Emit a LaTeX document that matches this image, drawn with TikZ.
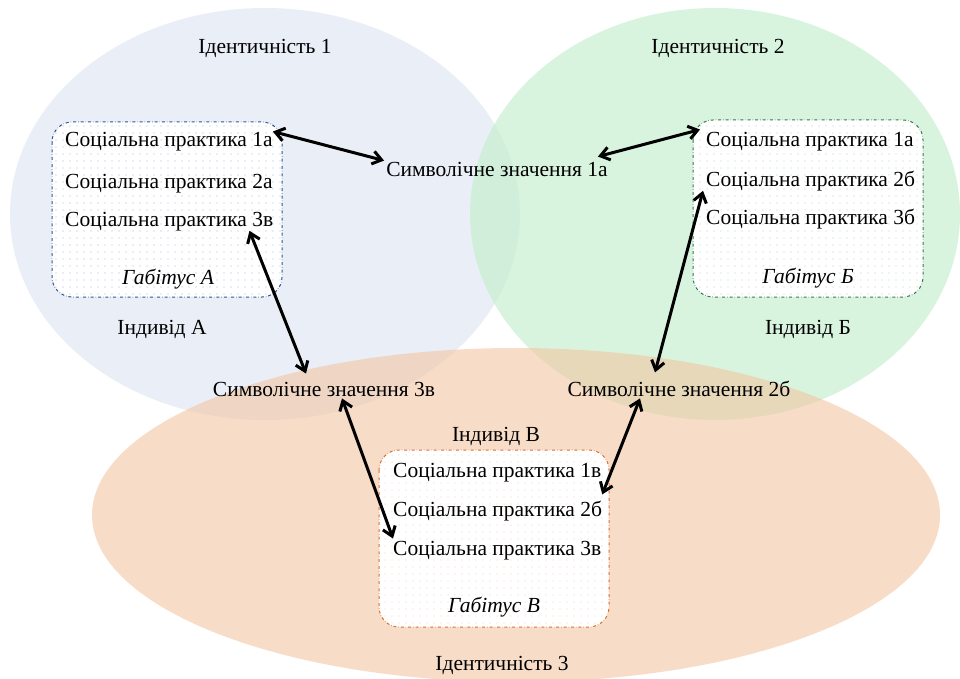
\documentclass[tikz,border=0pt]{standalone}
\usepackage{fontspec}
\setmainfont{Liberation Serif}
\usetikzlibrary{arrows.meta,patterns.meta,calc}
\definecolor{eblue}{RGB}{220,229,243}
\definecolor{egreen}{RGB}{192,238,200}
\definecolor{eorange}{RGB}{243,198,163}
\definecolor{bblue}{RGB}{47,85,151}
\definecolor{bgreen}{RGB}{56,120,70}
\definecolor{borange}{RGB}{220,110,50}
\tikzset{
  ell/.style={fill opacity=0.6, draw=none},
  habbox/.style={rounded corners=20pt, dash dot, line width=1pt, preaction={fill=white}},
  txt/.style={inner sep=0pt, font=\fontsize{21.5}{25}\selectfont, anchor=base west},
  ctxt/.style={inner sep=0pt, font=\fontsize{21.5}{25}\selectfont, anchor=base},
  itxt/.style={inner sep=0pt, font=\fontsize{21.5}{25}\selectfont\itshape, anchor=base},
  link/.style={line width=3pt, {Straight Barb[length=9pt,width=13pt]}-{Straight Barb[length=9pt,width=13pt]}}
}
\begin{document}
\begin{tikzpicture}[x=1pt,y=-1pt]
\useasboundingbox (0,0) rectangle (960,679);
\fill[white] (0,0) rectangle (960,679);
% ellipses
\fill[ell, eblue] (265,214) ellipse [x radius=255, y radius=206];
\fill[ell, egreen] (715,214) ellipse [x radius=245, y radius=206];
\fill[ell, eorange] (516,515) ellipse [x radius=424, y radius=167];
% habitus boxes
\draw[habbox, draw=bblue, pattern={Dots[distance=7pt,radius=0.7pt]}, pattern color=bblue!40] (52,122) rectangle (282,297);
\draw[habbox, draw=bgreen, pattern={Dots[distance=7pt,radius=0.7pt]}, pattern color=bgreen!35] (693,120) rectangle (923,297);
\draw[habbox, draw=borange, pattern={Dots[distance=7pt,radius=0.7pt]}, pattern color=borange!30] (379,450) rectangle (609,627);
% labels
\node[ctxt] (id1) at (265,54) {Ідентичність 1};
\node[ctxt] (id2) at (718,54) {Ідентичність 2};
\node[ctxt] (id3) at (502,670) {Ідентичність 3};
\node[ctxt] (indA) at (162,334) {Індивід А};
\node[ctxt] (indB) at (808,334) {Індивід Б};
\node[ctxt] (indC) at (496,441) {Індивід В};
% box A
\node[txt] (A1) at (65,147) {Соціальна практика 1а};
\node[txt] (A2) at (65,188) {Соціальна практика 2а};
\node[txt] (A3) at (65,226) {Соціальна практика 3в};
\node[itxt] (hA) at (168,284) {Габітус А};
% box B
\node[txt] (B1) at (706,147) {Соціальна практика 1а};
\node[txt] (B2) at (706,186) {Соціальна практика 2б};
\node[txt] (B3) at (706,224) {Соціальна практика 3б};
\node[itxt] (hB) at (808,283) {Габітус Б};
% box C
\node[txt] (C1) at (393,477) {Соціальна практика 1в};
\node[txt] (C2) at (393,516) {Соціальна практика 2б};
\node[txt] (C3) at (393,555) {Соціальна практика 3в};
\node[itxt] (hC) at (494,612) {Габітус В};
% symbolic meanings
\node[ctxt] (S1) at (497,177) {Символічне значення 1а};
\node[ctxt] (S3) at (324,396) {Символічне значення 3в};
\node[ctxt] (S2) at (679,396) {Символічне значення 2б};
% arrows
\draw[link] ($(A1.north east)+(0,-1)$) -- ($(S1.north west)+(-2,-2)$);
\draw[link] ($(S1.north east)+(-10,-6)$) -- ($(B1.north west)+(-6,-3)$);
\draw[link] ($(A3.south east)+(-24,0)$) -- ($(S3.north)+(-18,-8)$);
\draw[link] ($(B2.south west)+(-3,0)$) -- ($(S2.north)+(-24,-8)$);
\draw[link] ($(S3.south)+(18,2)$) -- ($(C3.north west)+(0,-2)$);
\draw[link] ($(S2.south)+(-39,2)$) -- ($(C2.north east)+(0,-6)$);
\end{tikzpicture}
\end{document}
